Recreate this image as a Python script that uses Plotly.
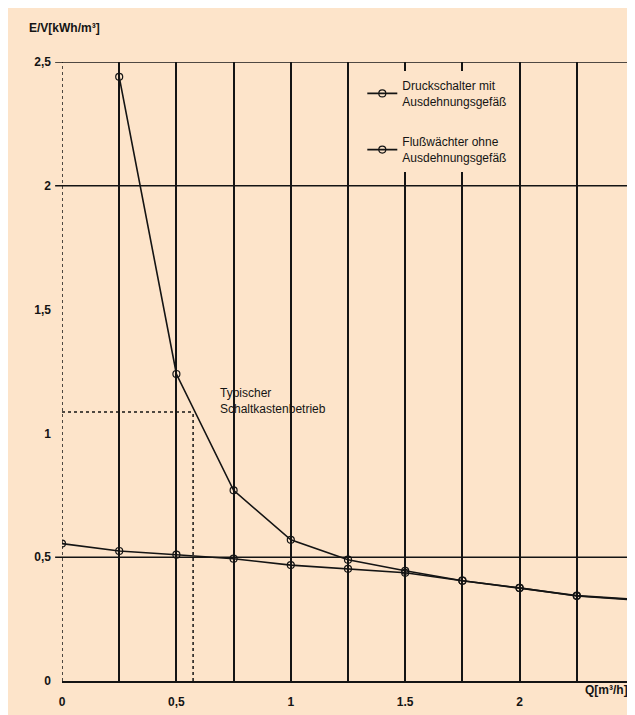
import plotly.graph_objects as go

# ---- data ----
q_druck = [0.25, 0.5, 0.75, 1.0, 1.25, 1.5, 1.75, 2.0, 2.25, 2.5]
ev_druck = [2.44, 1.24, 0.77, 0.57, 0.49, 0.445, 0.405, 0.376, 0.345, 0.33]

q_fluss = [0.0, 0.25, 0.5, 0.75, 1.0, 1.25, 1.5, 1.75, 2.0, 2.25, 2.5]
ev_fluss = [0.555, 0.525, 0.51, 0.494, 0.468, 0.453, 0.437, 0.405, 0.376, 0.343, 0.328]

name_druck = "Druckschalter mit<br>Ausdehnungsgefäß"
name_fluss = "Flußwächter ohne<br>Ausdehnungsgefäß"

x_tickvals = [0, 0.25, 0.5, 0.75, 1.0, 1.25, 1.5, 1.75, 2.0, 2.25, 2.5]
x_ticktext = ["0", "", "0,5", "", "1", "", "1.5", "", "2", "", ""]
y_tickvals = [0, 0.5, 1.0, 1.5, 2.0, 2.5]
y_ticktext = ["0", "0,5", "1", "1,5", "2", "2,5"]
y_grid_lines = [0.5, 2.0, 2.5]

typ_q = 0.573
typ_ev = 1.086
typ_text = "Typischer<br>Schaltkastenbetrieb"

PEACH = "#FDE4CA"
INK = "#141414"
FONT = "Liberation Sans"

fig = go.Figure()

for q, ev, nm, grp in [(q_druck, ev_druck, name_druck, "a"),
                       (q_fluss, ev_fluss, name_fluss, "b")]:
    fig.add_trace(go.Scatter(
        x=q, y=ev, name=nm, legendgroup=grp,
        mode="lines+markers",
        line=dict(color=INK, width=1.6),
        marker=dict(symbol="circle-open", size=7, color=INK, line=dict(width=1.2)),
    ))

shapes = []
# horizontal grid lines
for gy in y_grid_lines:
    shapes.append(dict(type="line", xref="paper", yref="y",
                       x0=-0.012, x1=1.0, y0=gy, y1=gy,
                       line=dict(color=INK, width=1.6), layer="below"))
# dotted y axis
shapes.append(dict(type="line", xref="x", yref="y", x0=0, x1=0, y0=0, y1=2.5,
                   line=dict(color=INK, width=1.5, dash="dot"), layer="below"))
# typical operating point guide lines
shapes.append(dict(type="line", xref="x", yref="y", x0=0, x1=typ_q, y0=typ_ev, y1=typ_ev,
                   line=dict(color=INK, width=1.5, dash="dot"), layer="below"))
shapes.append(dict(type="line", xref="x", yref="y", x0=typ_q, x1=typ_q, y0=0, y1=typ_ev,
                   line=dict(color=INK, width=1.5, dash="dot"), layer="below"))

annotations = [
    dict(x=0.68, y=1.13, xref="x", yref="y", text=typ_text, showarrow=False,
         xanchor="left", yanchor="middle", align="left",
         font=dict(family=FONT, size=12, color=INK)),
    dict(x=1.0, y=0, xref="paper", yref="paper", text="<b>Q[m³/h]</b>", showarrow=False,
         xanchor="right", yanchor="top", xshift=-4,
         font=dict(family=FONT, size=12, color=INK)),
    dict(x=-0.062, y=1.055, xref="paper", yref="paper", text="<b>E/V[kWh/m³]</b>",
         showarrow=False, xanchor="left", yanchor="middle",
         font=dict(family=FONT, size=12, color=INK)),
]

fig.update_layout(
    width=627, height=707,
    margin=dict(l=54, r=1, t=54, b=34),
    paper_bgcolor=PEACH,
    plot_bgcolor="rgba(0,0,0,0)",
    font=dict(family=FONT, size=12, color=INK),
    shapes=shapes,
    annotations=annotations,
    showlegend=True,
    legend=dict(x=0.525, y=0.985, xanchor="left", yanchor="top",
                bgcolor=PEACH, borderwidth=0,
                traceorder="grouped", tracegroupgap=22,
                itemwidth=30,
                font=dict(family=FONT, size=12, color=INK)),
    xaxis=dict(range=[0, 2.5], tickvals=x_tickvals, ticktext=x_ticktext,
               showgrid=True, gridcolor=INK, gridwidth=1.6,
               zeroline=False, showline=True, linecolor=INK, linewidth=1.8,
               ticks="", ticklabelstandoff=9,
               tickfont=dict(family=FONT, size=12, color=INK, weight="bold")),
    yaxis=dict(range=[0, 2.5], tickvals=y_tickvals, ticktext=y_ticktext,
               showgrid=False, zeroline=False, showline=False,
               ticks="", ticklabelstandoff=10,
               tickfont=dict(family=FONT, size=12, color=INK, weight="bold")),
)

fig.write_html("out.html")
